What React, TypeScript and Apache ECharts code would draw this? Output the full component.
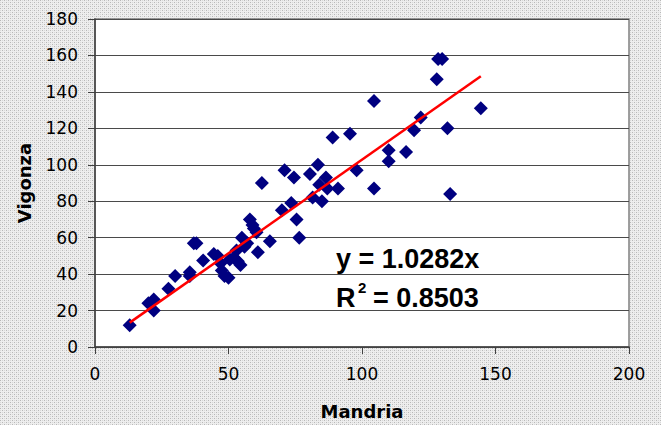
import React, { useEffect, useRef } from "react";
import * as echarts from "echarts";

// Mandria (x) vs Vigonza (y)
const mandria: number[] = [
  13, 20, 22, 22, 27.5, 30, 35.5, 35.5, 37, 38,
  40.5, 44.5, 46, 47, 47.5, 48.5, 50, 50.5, 52, 53,
  53.5, 54.5, 55, 56, 57, 58, 59, 59.5, 60.5, 61,
  62.5, 65.5, 70, 71, 73.5, 74.5, 75.5, 76.5, 80.5, 81.5,
  83.5, 84, 85, 86.5, 87, 89, 91, 95.5, 98, 104.5,
  104.5, 110, 110, 116.5, 119.5, 122, 128, 128.5, 130, 132,
  133, 144.5,
];
const vigonza: number[] = [
  12, 24, 26, 20, 32, 39, 41, 39, 57, 57,
  47.5, 51, 50, 46, 42, 39, 38, 48, 49, 53,
  47, 45, 60, 55, 57, 70, 67, 65, 63, 52,
  90, 58, 75, 97, 79, 93, 70, 60, 95, 82,
  100, 89, 80, 93, 87, 115, 87, 117, 97, 135,
  87, 108, 102, 107, 119, 126, 147, 158, 158, 120,
  84, 131,
];
const SLOPE = 1.0282;
const equationText = "y = 1.0282x";
const r2Value = "= 0.8503";
const xTicks = { min: 0, max: 200, interval: 50 };
const yTicks = { min: 0, max: 180, interval: 20 };

const bgPattern =
  "data:image/svg+xml;utf8," +
  encodeURIComponent(
    "<svg xmlns='http://www.w3.org/2000/svg' width='4' height='4'><rect width='4' height='4' fill='#eeeeee'/><rect x='0' y='0' width='1' height='1' fill='#b8b8b8'/><rect x='2' y='2' width='1' height='1' fill='#b8b8b8'/><rect x='2' y='0' width='1' height='1' fill='#d8d8d8'/><rect x='0' y='2' width='1' height='1' fill='#d8d8d8'/></svg>"
  );

export default function App() {
  const ref = useRef<HTMLDivElement>(null);
  useEffect(() => {
    if (!ref.current) return;
    const chart = echarts.init(ref.current, undefined, { renderer: "svg" });
    const pts = mandria.map((x, i) => [x, vigonza[i]]);
    const xMin = Math.min(...mandria);
    const xMax = Math.max(...mandria);
    const tickFont = { fontFamily: "DejaVu Sans", fontSize: 17, color: "#000" };
    const eqFont = { fontFamily: "Liberation Sans", fontWeight: "bold", fontSize: 27, fill: "#000" };
    chart.setOption({
      animation: false,
      backgroundColor: "transparent",
      grid: {
        left: 95,
        right: 32,
        top: 19,
        bottom: 78,
        show: true,
        backgroundColor: "#ffffff",
        borderColor: "#808080",
        borderWidth: 1.5,
      },
      xAxis: {
        type: "value",
        min: xTicks.min,
        max: xTicks.max,
        interval: xTicks.interval,
        name: "Mandria",
        nameLocation: "middle",
        nameGap: 55,
        nameTextStyle: { fontFamily: "DejaVu Sans", fontWeight: "bold", fontSize: 18, color: "#000" },
        axisLine: { show: true, onZero: false, lineStyle: { color: "#404040", width: 1.5 } },
        axisTick: { show: true, inside: false, length: 7, lineStyle: { color: "#404040" } },
        axisLabel: { ...tickFont, margin: 18 },
        splitLine: { show: false },
      },
      yAxis: {
        type: "value",
        min: yTicks.min,
        max: yTicks.max,
        interval: yTicks.interval,
        name: "Vigonza",
        nameLocation: "middle",
        nameRotate: 90,
        nameGap: 62,
        nameTextStyle: { fontFamily: "DejaVu Sans", fontWeight: "bold", fontSize: 18, color: "#000" },
        axisLine: { show: true, onZero: false, lineStyle: { color: "#404040", width: 1.5 } },
        axisTick: { show: true, inside: false, length: 7, lineStyle: { color: "#404040" } },
        axisLabel: { ...tickFont, margin: 17 },
        splitLine: { show: true, lineStyle: { color: "#4a4a4a", width: 1 } },
      },
      series: [
        {
          type: "scatter",
          data: pts,
          symbol: "diamond",
          symbolSize: 14,
          itemStyle: { color: "#000080", opacity: 1 },
          z: 2,
        },
        {
          type: "line",
          data: [
            [xMin, SLOPE * xMin],
            [xMax, SLOPE * xMax],
          ],
          symbol: "none",
          lineStyle: { color: "#ff0000", width: 2.5 },
          z: 3,
        },
      ],
      graphic: [
        {
          type: "text",
          left: 336,
          top: 245,
          style: { text: equationText, ...eqFont },
          z: 10,
        },
        {
          type: "text",
          left: 336,
          top: 284,
          style: { text: "R", ...eqFont },
          z: 10,
        },
        {
          type: "text",
          left: 358,
          top: 280,
          style: { text: "2", fontFamily: "Liberation Sans", fontWeight: "bold", fontSize: 15, fill: "#000" },
          z: 10,
        },
        {
          type: "text",
          left: 373,
          top: 284,
          style: { text: r2Value, ...eqFont },
          z: 10,
        },
      ],
    });
    return () => chart.dispose();
  }, []);
  return (
    <div
      style={{
        position: "fixed",
        left: 0,
        top: 0,
        width: 661,
        height: 425,
        backgroundColor: "#e6e6e6",
        backgroundImage: `url("${bgPattern}")`,
        backgroundRepeat: "repeat",
      }}
    >
      <div ref={ref} style={{ width: 661, height: 425 }} />
    </div>
  );
}
